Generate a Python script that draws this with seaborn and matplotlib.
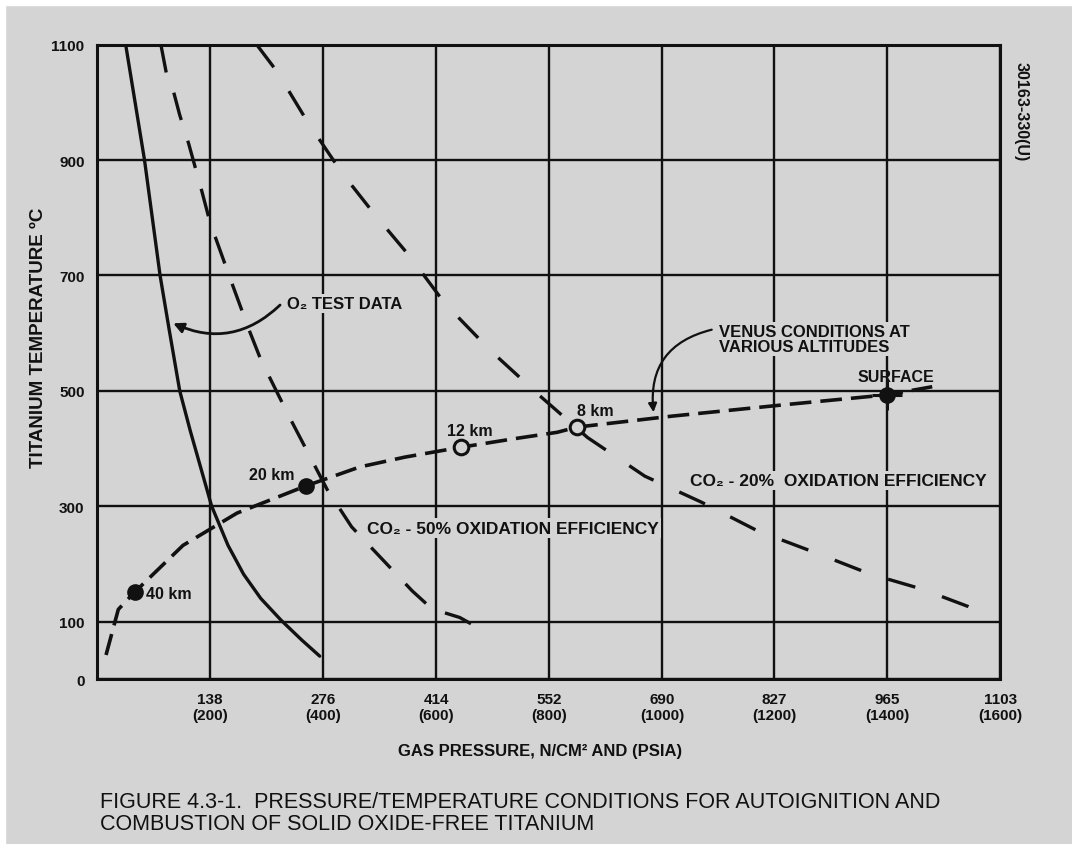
import matplotlib
matplotlib.use("Agg")
import matplotlib.pyplot as plt
from matplotlib.patches import Rectangle
import seaborn as sns
import pandas as pd

# gas pressure in N/cm2, titanium temperature in deg C
o2_x = [35, 58, 77, 88, 101, 114, 140, 160, 179, 200, 225, 250, 272]
o2_y = [1100, 900, 700, 607, 500, 430, 300, 232, 182, 140, 102, 68, 40]

co2_50_x = [78, 85, 93, 101, 112, 128, 138, 162, 185, 200, 234, 281, 311, 385, 409, 443, 472]
co2_50_y = [1100, 1048, 1021, 978, 928, 846, 792, 697, 608, 554, 457, 329, 264, 153, 122, 107, 84]

co2_20_x = [195, 220, 258, 300, 340, 382, 425, 481, 541, 599, 669, 738, 807, 878, 943, 1008, 1064, 1088]
co2_20_y = [1100, 1053, 964, 876, 804, 733, 651, 569, 491, 419, 352, 307, 257, 219, 183, 156, 126, 108]

venus_x = [11, 26, 46, 105, 171, 255, 321, 376, 444, 510, 562, 586, 702, 841, 965, 1020]
venus_y = [42, 121, 151, 232, 288, 335, 368, 385, 402, 417, 428, 437, 456, 476, 493, 507]

alt_names = ["40 km", "20 km", "12 km", "8 km", "SURFACE"]
alt_x = [46, 255, 444, 586, 965]
alt_y = [151, 335, 402, 437, 493]
alt_filled = [True, True, False, False, True]

x_ticks = [0, 138, 276, 414, 552, 690, 827, 965, 1103]
x_psia = [0, 200, 400, 600, 800, 1000, 1200, 1400, 1600]
y_ticks = [0, 100, 300, 500, 700, 900, 1100]
y_minor = [200, 400, 600, 800, 1000]

BG = "#d4d4d4"
INK = "#111111"

sns.set_style("white")
plt.rcParams["font.family"] = ["Liberation Sans", "DejaVu Sans"]
plt.rcParams["font.weight"] = "bold"

fig = plt.figure(figsize=(10.72, 8.45), dpi=100, facecolor=BG)
# white scanner margin on top and left
fig.patches.append(Rectangle((0, 0.993), 1, 0.007, transform=fig.transFigure, color="white", zorder=0))
fig.patches.append(Rectangle((0, 0), 0.005, 1, transform=fig.transFigure, color="white", zorder=0))

ax = fig.add_axes([0.0905, 0.195, 0.8425, 0.751])
ax.set_facecolor(BG)

o2 = pd.DataFrame({"p": o2_x, "t": o2_y})
c50 = pd.DataFrame({"p": co2_50_x, "t": co2_50_y})
c20 = pd.DataFrame({"p": co2_20_x, "t": co2_20_y})
ven = pd.DataFrame({"p": venus_x, "t": venus_y})
alt = pd.DataFrame({"name": alt_names, "p": alt_x, "t": alt_y, "filled": alt_filled})

sns.lineplot(data=o2, x="p", y="t", sort=False, estimator=None, color=INK, lw=2.4, ax=ax, zorder=4)
sns.lineplot(data=c50, x="p", y="t", sort=False, estimator=None, color=INK, lw=2.4,
             linestyle=(0, (8.5, 6.5)), ax=ax, zorder=4)
sns.lineplot(data=c20, x="p", y="t", sort=False, estimator=None, color=INK, lw=2.4,
             linestyle=(0, (8.5, 8.5)), ax=ax, zorder=4)
sns.lineplot(data=ven, x="p", y="t", sort=False, estimator=None, color=INK, lw=2.6,
             linestyle=(0, (6, 2.5)), ax=ax, zorder=4)

sns.scatterplot(data=alt[alt.filled], x="p", y="t", s=110, color=INK, edgecolor=INK,
                linewidth=1.5, ax=ax, zorder=6)
sns.scatterplot(data=alt[~alt.filled], x="p", y="t", s=110, color=BG, edgecolor=INK,
                linewidth=2.2, ax=ax, zorder=6)
ax.plot(alt_x[-1], alt_y[-1], marker="+", ms=22, mew=2.2, color=INK, zorder=7)

offsets = {"40 km": (8, -1, "left"), "20 km": (-8, 8, "right"), "12 km": (7, 12, "center"),
           "8 km": (13, 12, "center"), "SURFACE": (6, 13, "center")}
for name, px, ty in zip(alt_names, alt_x, alt_y):
    dx, dy, ha = offsets[name]
    ax.annotate(name, (px, ty), xytext=(dx, dy), textcoords="offset points",
                ha=ha, va="center", fontsize=11.5, fontweight="bold", color=INK, zorder=8)

label_box = dict(fc=BG, ec="none", pad=1.5)
ax.text(232, 652, "O₂ TEST DATA", fontsize=12, fontweight="bold", va="center", color=INK,
        bbox=label_box, zorder=5)
ax.annotate("", xy=(90, 619), xytext=(226, 652),
            arrowprops=dict(arrowstyle="-|>,head_length=0.6,head_width=0.3", color=INK, lw=2,
                            connectionstyle="arc3,rad=-0.35"), zorder=5)
ax.text(760, 590, "VENUS CONDITIONS AT\nVARIOUS ALTITUDES", fontsize=12, fontweight="bold",
        va="center", linespacing=1.05, color=INK, bbox=label_box, zorder=5)
ax.annotate("", xy=(680, 458), xytext=(754, 607),
            arrowprops=dict(arrowstyle="-|>,head_length=0.5,head_width=0.25", color=INK, lw=1.6,
                            connectionstyle="arc3,rad=0.45"), zorder=5)
ax.text(330, 262, "CO₂ - 50% OXIDATION EFFICIENCY", fontsize=12.5, fontweight="bold",
        va="center", color=INK, bbox=label_box, zorder=5)
ax.text(724, 345, "CO₂ - 20%  OXIDATION EFFICIENCY", fontsize=12.5, fontweight="bold",
        va="center", color=INK, bbox=label_box, zorder=5)
ax.text(1128, 985, "30163-330(U)", rotation=270, fontsize=11.5, fontweight="bold",
        ha="center", va="center", color=INK, clip_on=False)

ax.set_xlim(0, 1103)
ax.set_ylim(0, 1100)
ax.set_xticks(x_ticks)
ax.set_xticklabels([""] + [f"{p}\n({q})" for p, q in zip(x_ticks[1:], x_psia[1:])],
                   fontsize=11, fontweight="bold", linespacing=1.25)
ax.set_yticks(y_ticks)
ax.set_yticklabels([str(v) for v in y_ticks], fontsize=11, fontweight="bold")
ax.set_yticks(y_minor, minor=True)
ax.tick_params(axis="both", which="major", length=0, pad=9, colors=INK)
ax.tick_params(axis="y", which="minor", direction="in", length=6, width=1.5, color=INK)
ax.grid(True, which="major", color=INK, lw=1.7)
for s in ax.spines.values():
    s.set_color(INK)
    s.set_linewidth(2.2)

ax.set_xlabel("GAS PRESSURE, N/CM² AND (PSIA)", fontsize=12, fontweight="bold", color=INK)
ax.xaxis.set_label_coords(0.49, -0.1)
ax.set_ylabel("TITANIUM TEMPERATURE ºC", fontsize=13.5, fontweight="bold", color=INK)
ax.yaxis.set_label_coords(-0.055, 0.54)

fig.text(0.093, 0.05, "FIGURE 4.3-1.  PRESSURE/TEMPERATURE CONDITIONS FOR AUTOIGNITION AND",
         fontsize=15.5, fontweight="normal", va="center", color=INK)
fig.text(0.093, 0.024, "COMBUSTION OF SOLID OXIDE-FREE TITANIUM",
         fontsize=15.5, fontweight="normal", va="center", color=INK)

fig.savefig("out.png", dpi=100, facecolor=BG)
